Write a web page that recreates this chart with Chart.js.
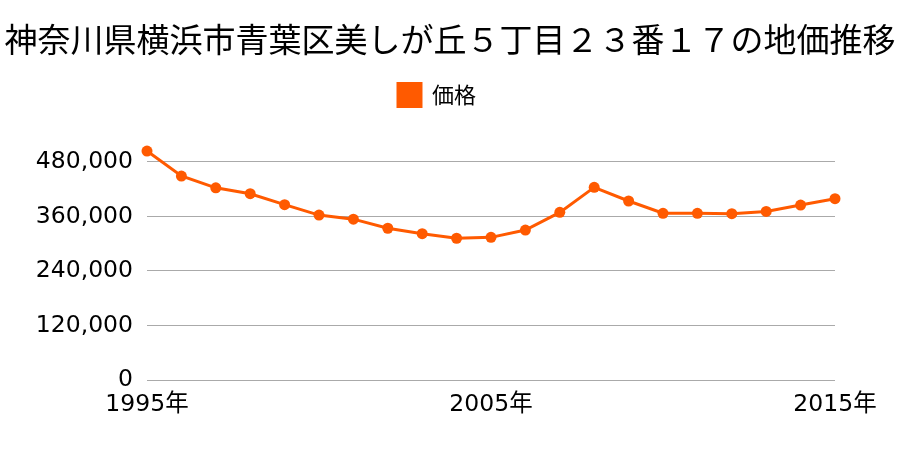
<!DOCTYPE html>
<html lang="ja">
<head>
<meta charset="UTF-8">
<title>地価推移</title>
<script src="https://cdn.jsdelivr.net/npm/chart.js"></script>
<style>
  html, body { margin: 0; padding: 0; background: #fff; overflow: hidden; }
  canvas { display: block; }
</style>
</head>
<body>
<canvas id="chart" width="900" height="450"></canvas>
<script>
// 年と価格
const years = [1995, 1996, 1997, 1998, 1999, 2000, 2001, 2002, 2003, 2004, 2005,
               2006, 2007, 2008, 2009, 2010, 2011, 2012, 2013, 2014, 2015];
const prices = [504000, 449000, 423000, 410000, 386000, 363000, 354000, 334000, 322000, 312000, 314000,
                330000, 369000, 424000, 394000, 367000, 367000, 366000, 371000, 385000, 399000];
const shownYears = [1995, 2005, 2015];
const yTicks = [0, 120000, 240000, 360000, 480000];
const titleText = '神奈川県横浜市青葉区美しが丘５丁目２３番１７の地価推移';
const seriesName = '価格';

const jpFont = '"Noto Sans CJK JP", "Noto Sans", sans-serif';
const tickFont = '"DejaVu Sans", "Noto Sans CJK JP", sans-serif';
const orange = '#ff5a00';
const yTop = 580000; // 一番上の目盛りより上に余白を残す

const labels = years.map(y => y + '年');

// 凡例を少し左に寄せる
const legendShift = {
  id: 'legendShift',
  afterLayout(chart) {
    if (chart.legend) chart.legend.right -= 26;
  }
};

new Chart(document.getElementById('chart'), {
  type: 'line',
  data: {
    labels: labels,
    datasets: [{
      label: seriesName,
      data: prices,
      borderColor: orange,
      backgroundColor: orange,
      borderWidth: 3,
      pointRadius: 5.5,
      pointBorderWidth: 0,
      pointBackgroundColor: orange,
      tension: 0,
      clip: false
    }]
  },
  options: {
    responsive: false,
    animation: false,
    devicePixelRatio: 1,
    layout: { padding: { top: 8, left: 0, right: 0, bottom: 10 } },
    plugins: {
      title: {
        display: true,
        text: titleText,
        color: '#000',
        font: { family: jpFont, size: 33, weight: 'normal' },
        padding: { top: 11.2, bottom: 14.7 }
      },
      legend: {
        labels: {
          color: '#000',
          font: { family: jpFont, size: 22 },
          boxWidth: 23,
          boxHeight: 23,
          padding: 10
        }
      },
      tooltip: { enabled: false }
    },
    scales: {
      x: {
        afterFit: function (scale) {
          scale.height = 60;
          scale.paddingRight = 65;
        },
        grid: { display: false, drawTicks: false },
        border: { display: false },
        ticks: {
          autoSkip: false,
          maxRotation: 0,
          padding: 11,
          color: '#000',
          font: { family: tickFont, size: 23.5 },
          callback: function (value, index) {
            return shownYears.includes(years[index]) ? labels[index] : '';
          }
        }
      },
      y: {
        min: 0,
        max: yTop,
        afterFit: function (scale) { scale.width = 147; },
        afterBuildTicks: function (scale) {
          scale.ticks = yTicks.map(v => ({ value: v }));
        },
        grid: { color: '#aaaaaa', drawTicks: false },
        border: { display: false },
        ticks: {
          padding: 14,
          color: '#000',
          font: { family: tickFont, size: 23.5 },
          callback: v => v.toLocaleString('en-US')
        }
      }
    }
  },
  plugins: [legendShift]
});
</script>
</body>
</html>
